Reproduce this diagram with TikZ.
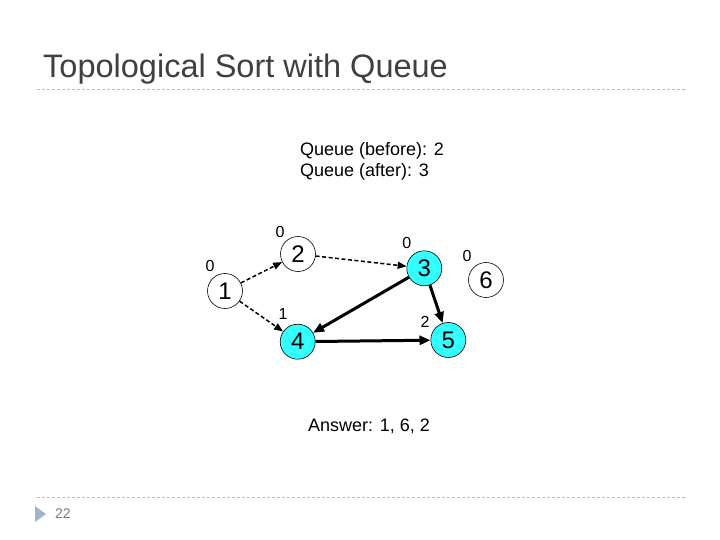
\documentclass[tikz,border=0pt]{standalone}
\usepackage{fontspec}
\setmainfont{Liberation Sans}
\usepackage{xcolor}
\usetikzlibrary{arrows.meta,positioning}
\definecolor{titlegray}{RGB}{64,64,64}
\definecolor{rulegray}{RGB}{190,190,190}
\definecolor{bulletblue}{RGB}{160,180,200}
\definecolor{donecyan}{RGB}{51,255,255}
\newcommand{\vertexfont}{\fontsize{24}{28}\selectfont}
\newcommand{\degfont}{\fontsize{16}{19}\selectfont}
\tikzset{
  vertex/.style={circle, draw=black, line width=0.6pt, fill=white,
    minimum size=35pt, inner sep=0pt, font=\vertexfont},
  donevertex/.style={vertex, fill=donecyan},
  indeg/.style={font=\degfont, inner sep=0pt},
  info/.style={font=\fontsize{18}{21.6}\selectfont, anchor=base west,
    align=left, inner sep=0pt},
  dasharrow/.style={-{Triangle[length=9pt,width=7pt]}, line width=1.5pt,
    dash pattern=on 4pt off 2.5pt},
  usedarrow/.style={-{Triangle[length=11pt,width=9pt]}, line width=3pt},
  sliderule/.style={draw=rulegray, line width=0.6pt, dash pattern=on 3pt off 2pt}
}

\begin{document}
\begin{tikzpicture}[x=1pt,y=-1pt]
  \useasboundingbox[fill=white] (0,0) rectangle (720,540);

  % slide frame
  \node[font=\fontsize{32.5}{38}\selectfont, text=titlegray, anchor=base west,
    inner sep=0pt] (title) at (43,78) {Topological Sort with Queue};
  \coordinate (topl) at (37,89.5);
  \coordinate (topr) at (685,89.5);
  \draw[sliderule] (topl) -- (topr);
  \coordinate (botl) at (37,497);
  \coordinate (botr) at (685,497);
  \draw[sliderule] (botl) -- (botr);
  \fill[bulletblue] (35,506) -- (46,514) -- (35,522) -- cycle;
  \node[font=\fontsize{14}{17}\selectfont, text=titlegray!70, anchor=west,
    inner sep=0pt] (pagenum) at (55,513.5) {22};

  % queue state
  \node[info] (queue) at (300,177) {Queue (before): 2\\Queue (after): 3};

  % vertices
  \node[vertex] (vone) at (225,291) {1};
  \node[vertex] (vtwo) at (298,254) {2};
  \node[donevertex] (vthree) at (424.3,268.3) {3};
  \node[donevertex] (vfour) at (297.7,341.7) {4};
  \node[donevertex] (vfive) at (448.3,340) {5};
  \node[vertex] (vsix) at (486,280) {6};

  % in-degrees
  \node[indeg] (done) at (210,266) {0};
  \node[indeg] (dtwo) at (280,231.7) {0};
  \node[indeg] (dthree) at (406.7,242.7) {0};
  \node[indeg] (dfour) at (283,314) {1};
  \node[indeg] (dfive) at (425,321.7) {2};
  \node[indeg] (dsix) at (467,256) {0};

  % edges
  \draw[dasharrow] (vone) -- (vtwo);
  \draw[dasharrow] (vone) -- (vfour);
  \draw[dasharrow] (vtwo) -- (vthree);
  \draw[usedarrow] (vthree) -- (vfour);
  \draw[usedarrow] (vthree) -- (vfive);
  \draw[usedarrow] (vfour) -- (vfive);

  \node[info] (answer) at (308,431.5) {Answer: 1, 6, 2};
\end{tikzpicture}
\end{document}
